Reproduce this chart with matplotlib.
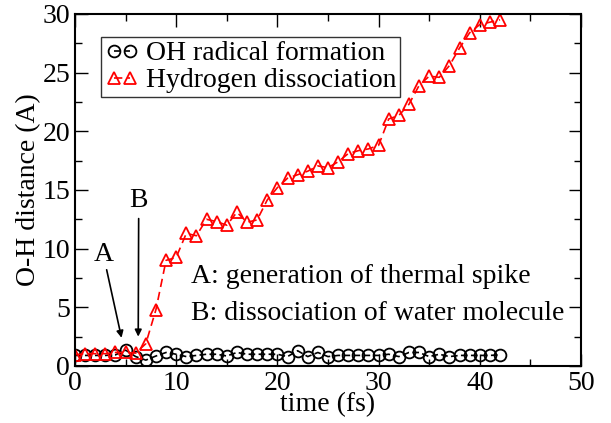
import matplotlib
matplotlib.use("Agg")
import matplotlib.pyplot as plt
import numpy as np

plt.rcParams['font.family'] = ['Liberation Serif', 'DejaVu Serif']

# time (fs)
t = np.arange(0, 43)

# OH radical formation (black circles)
oh = [0.9, 0.9, 0.9, 0.9, 0.95, 1.35, 0.8, 0.5, 0.85, 1.15,
      1.0, 0.8, 0.9, 1.0, 1.0, 0.85, 1.15, 1.0, 1.0, 1.0,
      1.0, 0.8, 1.3, 0.8, 1.15, 0.8, 0.9, 0.9, 0.9, 0.9,
      0.9, 1.0, 0.8, 1.15, 1.15, 0.8, 1.0, 0.8, 0.9, 0.9,
      0.9, 0.9, 0.95]

# Hydrogen dissociation (red triangles)
hd = [0.95, 1.05, 1.05, 1.05, 1.15, 1.15, 1.1, 1.9, 4.8, 9.0,
      9.25, 11.3, 11.1, 12.5, 12.3, 12.0, 13.1, 12.25, 12.45, 14.15,
      15.2, 16.0, 16.3, 16.6, 17.05, 16.9, 17.4, 18.1, 18.35, 18.5,
      18.8, 21.05, 21.35, 22.3, 23.9, 24.7, 24.6, 25.6, 27.1, 28.4,
      29.1, 29.3, 29.5]

fig = plt.figure(figsize=(6.11, 4.23), dpi=100)
ax = fig.add_axes([0.1227, 0.1348, 0.8282, 0.8322])

ax.plot(t, oh, ls=(0, (4, 2)), color='black', lw=1.2, marker='o', ms=8.5,
        mfc='none', mec='black', mew=1.3, label='OH radical formation')
ax.plot(t, hd, ls=(0, (5, 3)), color='red', lw=1.2, marker='^', ms=9,
        mfc='none', mec='red', mew=1.3, label='Hydrogen dissociation')

ax.set_xlim(0, 50)
ax.set_ylim(0, 30)
ax.set_xticks(np.arange(0, 51, 10))
ax.set_xticks(np.arange(0, 51, 5), minor=True)
ax.set_yticks(np.arange(0, 31, 5))
ax.set_yticks(np.arange(0, 31, 2.5), minor=True)
ax.tick_params(which='both', direction='in', top=True, right=True, labelsize=20)
ax.tick_params(which='major', length=9, width=1)
ax.tick_params(which='minor', length=5, width=1)
for s in ax.spines.values():
    s.set_linewidth(1.5)

ax.set_xlabel('time (fs)', fontsize=20, labelpad=-3)
ax.set_ylabel('O-H distance (A)', fontsize=20, labelpad=1)

leg = ax.legend(loc='upper left', bbox_to_anchor=(0.052, 0.935), fontsize=20,
                numpoints=2, handlelength=1.2, handletextpad=0.25,
                borderpad=0.15, labelspacing=0.05, borderaxespad=0,
                frameon=True, fancybox=False)
leg.get_frame().set_edgecolor('black')
leg.get_frame().set_linewidth(1.0)

ax.annotate('A', xy=(4.6, 2.4), xytext=(2.8, 9.5), fontsize=20,
            ha='center', va='center',
            arrowprops=dict(arrowstyle='-|>', color='black', lw=1.2,
                            shrinkA=0, shrinkB=0, mutation_scale=10))
ax.annotate('B', xy=(6.25, 2.5), xytext=(6.3, 14.1), fontsize=20,
            ha='center', va='center',
            arrowprops=dict(arrowstyle='-|>', color='black', lw=1.2,
                            shrinkA=2, shrinkB=0, mutation_scale=10))

ax.text(11.5, 7.1, 'A: generation of thermal spike', fontsize=20,
        ha='left', va='baseline')
ax.text(11.5, 3.9, 'B: dissociation of water molecule', fontsize=20,
        ha='left', va='baseline')

fig.savefig('out.png', dpi=100)
